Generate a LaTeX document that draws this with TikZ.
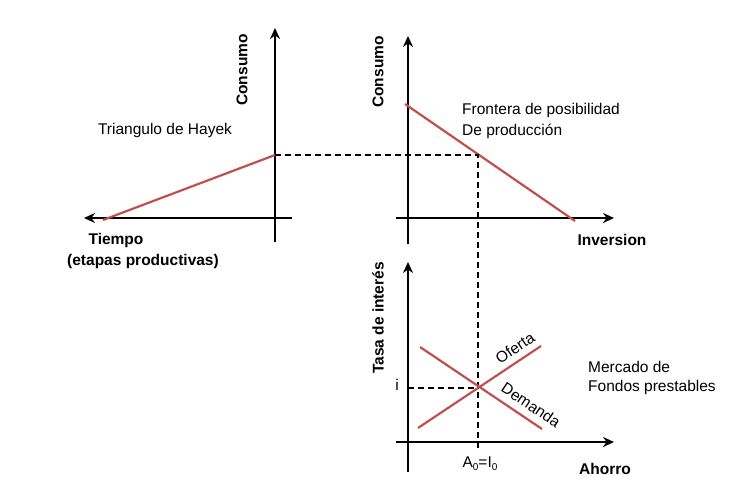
\documentclass[tikz,border=0pt]{standalone}
\usepackage{fontspec}
\setmainfont{Liberation Sans}
\usetikzlibrary{arrows.meta}
\begin{document}
\begin{tikzpicture}[x=1pt,y=-1pt,
  ax/.style={line width=2.6pt,-{Stealth[length=11pt,width=10pt]}},
  curve/.style={line width=2.2pt,draw={rgb,255:red,192;green,80;blue,77}},
  dashline/.style={line width=2pt,dash pattern=on 6pt off 4pt},
  lbl/.style={font=\fontsize{15.5}{18}\selectfont,inner sep=0pt},
  blbl/.style={font=\fontsize{15.5}{18}\selectfont\bfseries,inner sep=0pt}]
\useasboundingbox (0,0) rectangle (738,484);
% left panel
\coordinate (lvb) at (275,242); \coordinate (lvt) at (275,28);
\coordinate (lhr) at (292,218); \coordinate (lhl) at (84,218);
\draw[ax] (lvb) -- (lvt);
\draw[ax] (lhr) -- (lhl);
\coordinate (h0) at (103,220); \coordinate (h1) at (275,155);
\draw[curve] (h0) -- (h1);
\node[blbl,rotate=90] (c1) at (242,70) {Consumo};
\node[lbl] (hay) at (165,130) {Triangulo de Hayek};
\node[blbl] (tie) at (116,240) {Tiempo};
\node[blbl] (eta) at (143,261) {(etapas productivas)};
% middle panel
\coordinate (mvb) at (408,244); \coordinate (mvt) at (408,36);
\coordinate (mhl) at (396,218); \coordinate (mhr) at (614,218);
\draw[ax] (mvb) -- (mvt);
\draw[ax] (mhl) -- (mhr);
\coordinate (f0) at (405,104); \coordinate (f1) at (575,221);
\draw[curve] (f0) -- (f1);
\coordinate (p) at (478,155); \coordinate (pb) at (478,448);
\draw[dashline] (h1) -- (p) -- (pb);
\node[blbl,rotate=90] (c2) at (378,72) {Consumo};
\node[lbl,anchor=west] (fr1) at (462,110) {Frontera de posibilidad};
\node[lbl,anchor=west] (fr2) at (462,131) {De producción};
\node[blbl] (inv) at (612,240) {Inversion};
% bottom panel
\coordinate (bvb) at (408,472); \coordinate (bvt) at (408,262);
\coordinate (bhl) at (396,442); \coordinate (bhr) at (614,442);
\draw[ax] (bvb) -- (bvt);
\draw[ax] (bhl) -- (bhr);
\coordinate (o0) at (418,428); \coordinate (o1) at (541,346);
\coordinate (d0) at (420,347); \coordinate (d1) at (542,429);
\draw[curve] (o0) -- (o1);
\draw[curve] (d0) -- (d1);
\coordinate (e) at (478,388); \coordinate (ei) at (408,388);
\draw[dashline] (ei) -- (e);
\node[lbl] (i) at (397,385) {i};
\node[blbl,rotate=90] (tasa) at (378,318) {Tasa de interés};
\node[lbl,rotate=34] (of) at (515,348) {Oferta};
\node[lbl,rotate=-34] (de) at (531,405) {Demanda};
\node[lbl,anchor=west] (m1) at (588,367) {Mercado de};
\node[lbl,anchor=west] (m2) at (588,387) {Fondos prestables};
\node[lbl] (a0) at (480,464) {A\raisebox{-0.35ex}{\fontsize{10}{12}\selectfont 0}=I\raisebox{-0.35ex}{\fontsize{10}{12}\selectfont 0}};
\node[blbl] (aho) at (605,469) {Ahorro};
\end{tikzpicture}
\end{document}
